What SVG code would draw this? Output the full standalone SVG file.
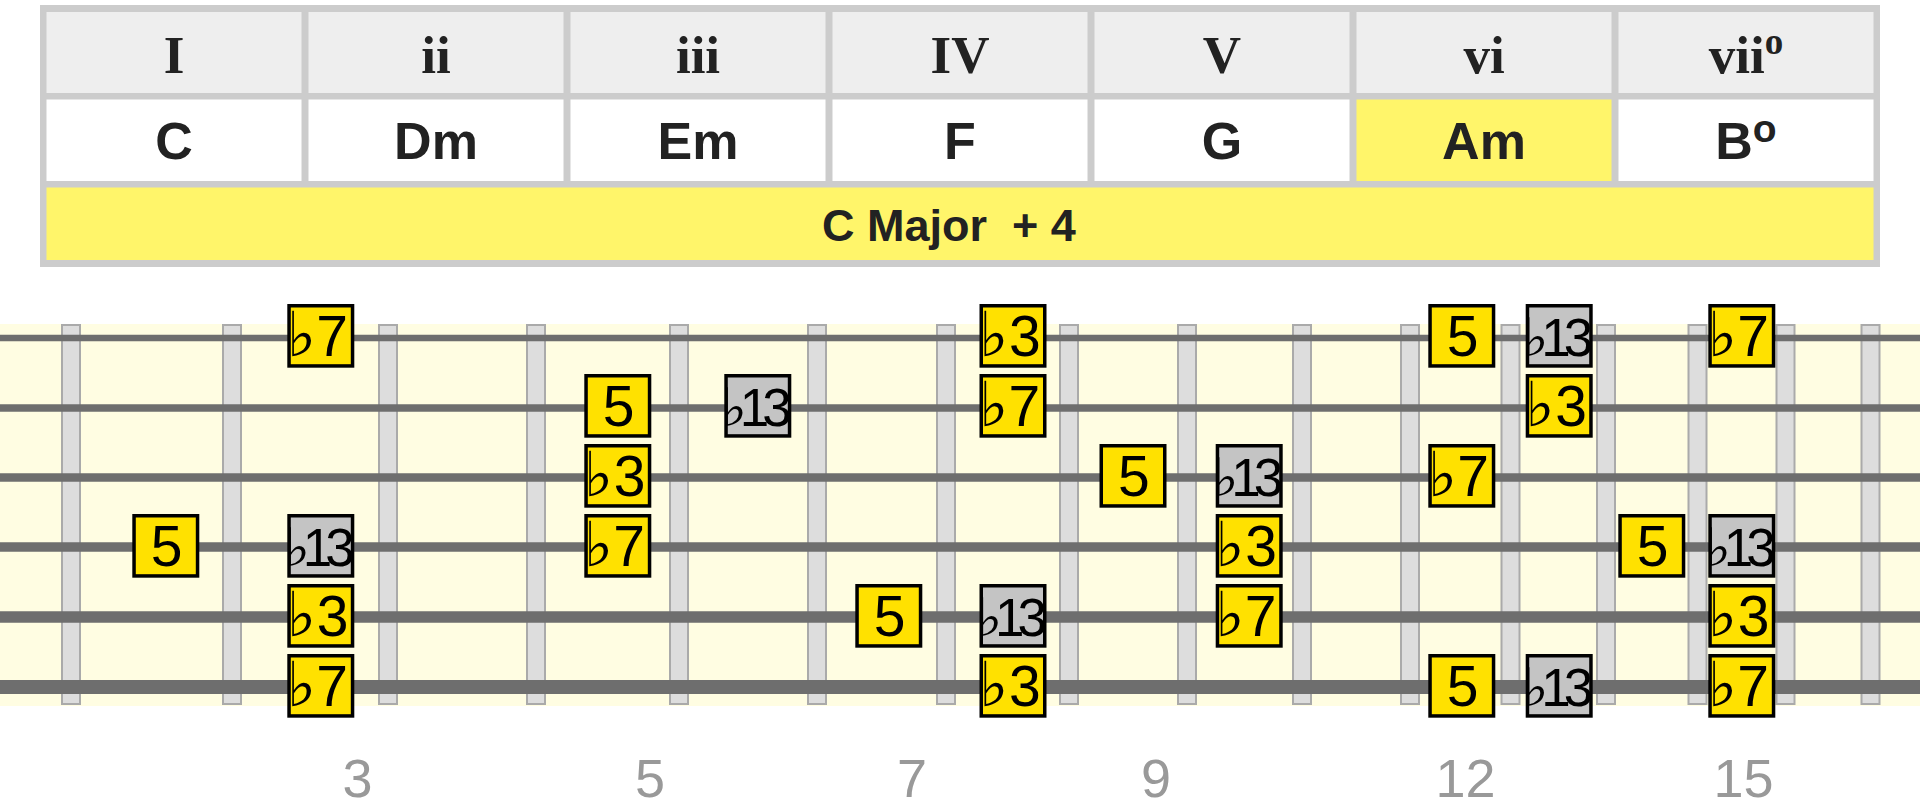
<svg xmlns="http://www.w3.org/2000/svg" width="1920" height="810" viewBox="0 0 1920 810">
<style>
.hd{fill:#eeeeee}
.ch{fill:#ffffff}
.hl{fill:#fff56a}
.rn{font-family:"Liberation Serif","Times New Roman",serif;font-weight:bold;font-size:53px;fill:#222;text-anchor:middle}
.cn{font-family:"Liberation Sans",Arial,sans-serif;font-weight:bold;font-size:52px;fill:#222;text-anchor:middle}
.ky{font-family:"Liberation Sans",Arial,sans-serif;font-weight:bold;font-size:45px;fill:#222}
.fret{fill:#dddddd;stroke:#aaaaaa;stroke-width:2}
.str{stroke:#6e6e6e}
.ny{fill:#ffe100;stroke:#000;stroke-width:3.5}
.ng{fill:#c4c4c4;stroke:#000;stroke-width:3.5}
.nt{font-family:"Liberation Sans",Arial,sans-serif;font-size:57px;fill:#000;text-anchor:middle}
.nf{font-family:"Liberation Sans",Arial,sans-serif;font-size:57px;fill:#000}
.n13{font-family:"Liberation Sans","DejaVu Sans",sans-serif;font-size:53px;fill:#000;letter-spacing:-7px}
.fl{font-family:"DejaVu Sans",sans-serif;font-size:62px}
.fn{font-family:"Liberation Sans",Arial,sans-serif;font-size:54px;fill:#999;text-anchor:middle}
</style>
<defs>
<rect id="by" class="ny" x="-31.75" y="1.75" width="63.5" height="60.2"/>
<rect id="bg" class="ng" x="-31.75" y="1.75" width="63.5" height="60.2"/>
</defs>
<g id="table">
<rect x="40" y="5" width="1840" height="262" fill="#cccccc"/>
<g id="col-I"><rect class="hd" x="46.5" y="12" width="255" height="81"/><text class="rn" x="174" y="72.5">I</text><rect class="ch" x="46.5" y="99.5" width="255" height="81.5"/><text class="cn" x="174" y="159">C</text></g>
<g id="col-ii"><rect class="hd" x="308.5" y="12" width="255" height="81"/><text class="rn" x="436" y="72.5">ii</text><rect class="ch" x="308.5" y="99.5" width="255" height="81.5"/><text class="cn" x="436" y="159">Dm</text></g>
<g id="col-iii"><rect class="hd" x="570.5" y="12" width="255" height="81"/><text class="rn" x="698" y="72.5">iii</text><rect class="ch" x="570.5" y="99.5" width="255" height="81.5"/><text class="cn" x="698" y="159">Em</text></g>
<g id="col-IV"><rect class="hd" x="832.5" y="12" width="255" height="81"/><text class="rn" x="960" y="72.5">IV</text><rect class="ch" x="832.5" y="99.5" width="255" height="81.5"/><text class="cn" x="960" y="159">F</text></g>
<g id="col-V"><rect class="hd" x="1094.5" y="12" width="255" height="81"/><text class="rn" x="1222" y="72.5">V</text><rect class="ch" x="1094.5" y="99.5" width="255" height="81.5"/><text class="cn" x="1222" y="159">G</text></g>
<g id="col-vi"><rect class="hd" x="1356.5" y="12" width="255" height="81"/><text class="rn" x="1484" y="72.5">vi</text><rect class="hl" x="1356.5" y="99.5" width="255" height="81.5"/><text class="cn" x="1484" y="159">Am</text></g>
<g id="col-vii"><rect class="hd" x="1618.5" y="12" width="255" height="81"/><text class="rn" x="1746" y="72.5">vii<tspan font-size="37" dy="-19">o</tspan></text><rect class="ch" x="1618.5" y="99.5" width="255" height="81.5"/><text class="cn" x="1746" y="159">B<tspan font-size="39" dy="-17">o</tspan></text></g>
<g id="key"><rect class="hl" x="46.5" y="187.5" width="1827" height="72.5"/><text class="ky" x="822" y="241" xml:space="preserve">C Major  + 4</text></g>
</g>
<g id="fretboard">
<rect x="0" y="324" width="1920" height="382" fill="#fffde2"/>
<g id="frets">
<rect class="fret" x="62" y="325" width="18" height="379"/>
<rect class="fret" x="223" y="325" width="18" height="379"/>
<rect class="fret" x="379" y="325" width="18" height="379"/>
<rect class="fret" x="527" y="325" width="18" height="379"/>
<rect class="fret" x="670" y="325" width="18" height="379"/>
<rect class="fret" x="808" y="325" width="18" height="379"/>
<rect class="fret" x="937" y="325" width="18" height="379"/>
<rect class="fret" x="1060" y="325" width="18" height="379"/>
<rect class="fret" x="1178" y="325" width="18" height="379"/>
<rect class="fret" x="1293" y="325" width="18" height="379"/>
<rect class="fret" x="1401" y="325" width="18" height="379"/>
<rect class="fret" x="1501.5" y="325" width="18" height="379"/>
<rect class="fret" x="1597" y="325" width="18" height="379"/>
<rect class="fret" x="1688.5" y="325" width="18" height="379"/>
<rect class="fret" x="1776.5" y="325" width="18" height="379"/>
<rect class="fret" x="1861.5" y="325" width="18" height="379"/>
</g>
<g id="strings">
<line class="str" x1="0" y1="338" x2="1920" y2="338" stroke-width="6.7"/>
<line class="str" x1="0" y1="408" x2="1920" y2="408" stroke-width="7.3"/>
<line class="str" x1="0" y1="477.5" x2="1920" y2="477.5" stroke-width="8.3"/>
<line class="str" x1="0" y1="547" x2="1920" y2="547" stroke-width="9.5"/>
<line class="str" x1="0" y1="617" x2="1920" y2="617" stroke-width="11.5"/>
<line class="str" x1="0" y1="687" x2="1920" y2="687" stroke-width="14"/>
</g>
</g>
<g id="notes">
<g id="s1-f3" transform="translate(320.8,304)"><use href="#by"/><text class="nf" y="51.5"><tspan class="fl" x="-34">♭</tspan><tspan x="-4.5">7</tspan></text></g>
<g id="s1-f8" transform="translate(1013,304)"><use href="#by"/><text class="nf" y="51.5"><tspan class="fl" x="-34">♭</tspan><tspan x="-4">3</tspan></text></g>
<g id="s1-f12" transform="translate(1461.8,304)"><use href="#by"/><text class="nt" x="0.8" y="52">5</text></g>
<g id="s1-f13" transform="translate(1559.2,304)"><use href="#bg"/><text class="n13" x="-36" y="51.5">♭13</text></g>
<g id="s1-f15" transform="translate(1741.8,304)"><use href="#by"/><text class="nf" y="51.5"><tspan class="fl" x="-34">♭</tspan><tspan x="-4.5">7</tspan></text></g>
<g id="s2-f5" transform="translate(617.8,374)"><use href="#by"/><text class="nt" x="0.8" y="52">5</text></g>
<g id="s2-f6" transform="translate(757.8,374)"><use href="#bg"/><text class="n13" x="-36" y="51.5">♭13</text></g>
<g id="s2-f8" transform="translate(1013,374)"><use href="#by"/><text class="nf" y="51.5"><tspan class="fl" x="-34">♭</tspan><tspan x="-4.5">7</tspan></text></g>
<g id="s2-f13" transform="translate(1559.2,374)"><use href="#by"/><text class="nf" y="51.5"><tspan class="fl" x="-34">♭</tspan><tspan x="-4">3</tspan></text></g>
<g id="s3-f5" transform="translate(617.8,444)"><use href="#by"/><text class="nf" y="51.5"><tspan class="fl" x="-34">♭</tspan><tspan x="-4">3</tspan></text></g>
<g id="s3-f9" transform="translate(1133,444)"><use href="#by"/><text class="nt" x="0.8" y="52">5</text></g>
<g id="s3-f10" transform="translate(1249.2,444)"><use href="#bg"/><text class="n13" x="-36" y="51.5">♭13</text></g>
<g id="s3-f12" transform="translate(1461.8,444)"><use href="#by"/><text class="nf" y="51.5"><tspan class="fl" x="-34">♭</tspan><tspan x="-4.5">7</tspan></text></g>
<g id="s4-f2" transform="translate(165.8,514)"><use href="#by"/><text class="nt" x="0.8" y="52">5</text></g>
<g id="s4-f3" transform="translate(320.8,514)"><use href="#bg"/><text class="n13" x="-36" y="51.5">♭13</text></g>
<g id="s4-f5" transform="translate(617.8,514)"><use href="#by"/><text class="nf" y="51.5"><tspan class="fl" x="-34">♭</tspan><tspan x="-4.5">7</tspan></text></g>
<g id="s4-f10" transform="translate(1249.2,514)"><use href="#by"/><text class="nf" y="51.5"><tspan class="fl" x="-34">♭</tspan><tspan x="-4">3</tspan></text></g>
<g id="s4-f14" transform="translate(1651.8,514)"><use href="#by"/><text class="nt" x="0.8" y="52">5</text></g>
<g id="s4-f15" transform="translate(1741.8,514)"><use href="#bg"/><text class="n13" x="-36" y="51.5">♭13</text></g>
<g id="s5-f3" transform="translate(320.8,584)"><use href="#by"/><text class="nf" y="51.5"><tspan class="fl" x="-34">♭</tspan><tspan x="-4">3</tspan></text></g>
<g id="s5-f7" transform="translate(888.8,584)"><use href="#by"/><text class="nt" x="0.8" y="52">5</text></g>
<g id="s5-f8" transform="translate(1013,584)"><use href="#bg"/><text class="n13" x="-36" y="51.5">♭13</text></g>
<g id="s5-f10" transform="translate(1249.2,584)"><use href="#by"/><text class="nf" y="51.5"><tspan class="fl" x="-34">♭</tspan><tspan x="-4.5">7</tspan></text></g>
<g id="s5-f15" transform="translate(1741.8,584)"><use href="#by"/><text class="nf" y="51.5"><tspan class="fl" x="-34">♭</tspan><tspan x="-4">3</tspan></text></g>
<g id="s6-f3" transform="translate(320.8,654)"><use href="#by"/><text class="nf" y="51.5"><tspan class="fl" x="-34">♭</tspan><tspan x="-4.5">7</tspan></text></g>
<g id="s6-f8" transform="translate(1013,654)"><use href="#by"/><text class="nf" y="51.5"><tspan class="fl" x="-34">♭</tspan><tspan x="-4">3</tspan></text></g>
<g id="s6-f12" transform="translate(1461.8,654)"><use href="#by"/><text class="nt" x="0.8" y="52">5</text></g>
<g id="s6-f13" transform="translate(1559.2,654)"><use href="#bg"/><text class="n13" x="-36" y="51.5">♭13</text></g>
<g id="s6-f15" transform="translate(1741.8,654)"><use href="#by"/><text class="nf" y="51.5"><tspan class="fl" x="-34">♭</tspan><tspan x="-4.5">7</tspan></text></g>
</g>
<g id="fret-numbers">
<text class="fn" x="357.5" y="797">3</text>
<text class="fn" x="650" y="797">5</text>
<text class="fn" x="912" y="797">7</text>
<text class="fn" x="1156" y="797">9</text>
<text class="fn" x="1465.5" y="797">12</text>
<text class="fn" x="1743.5" y="797">15</text>
</g>
</svg>
